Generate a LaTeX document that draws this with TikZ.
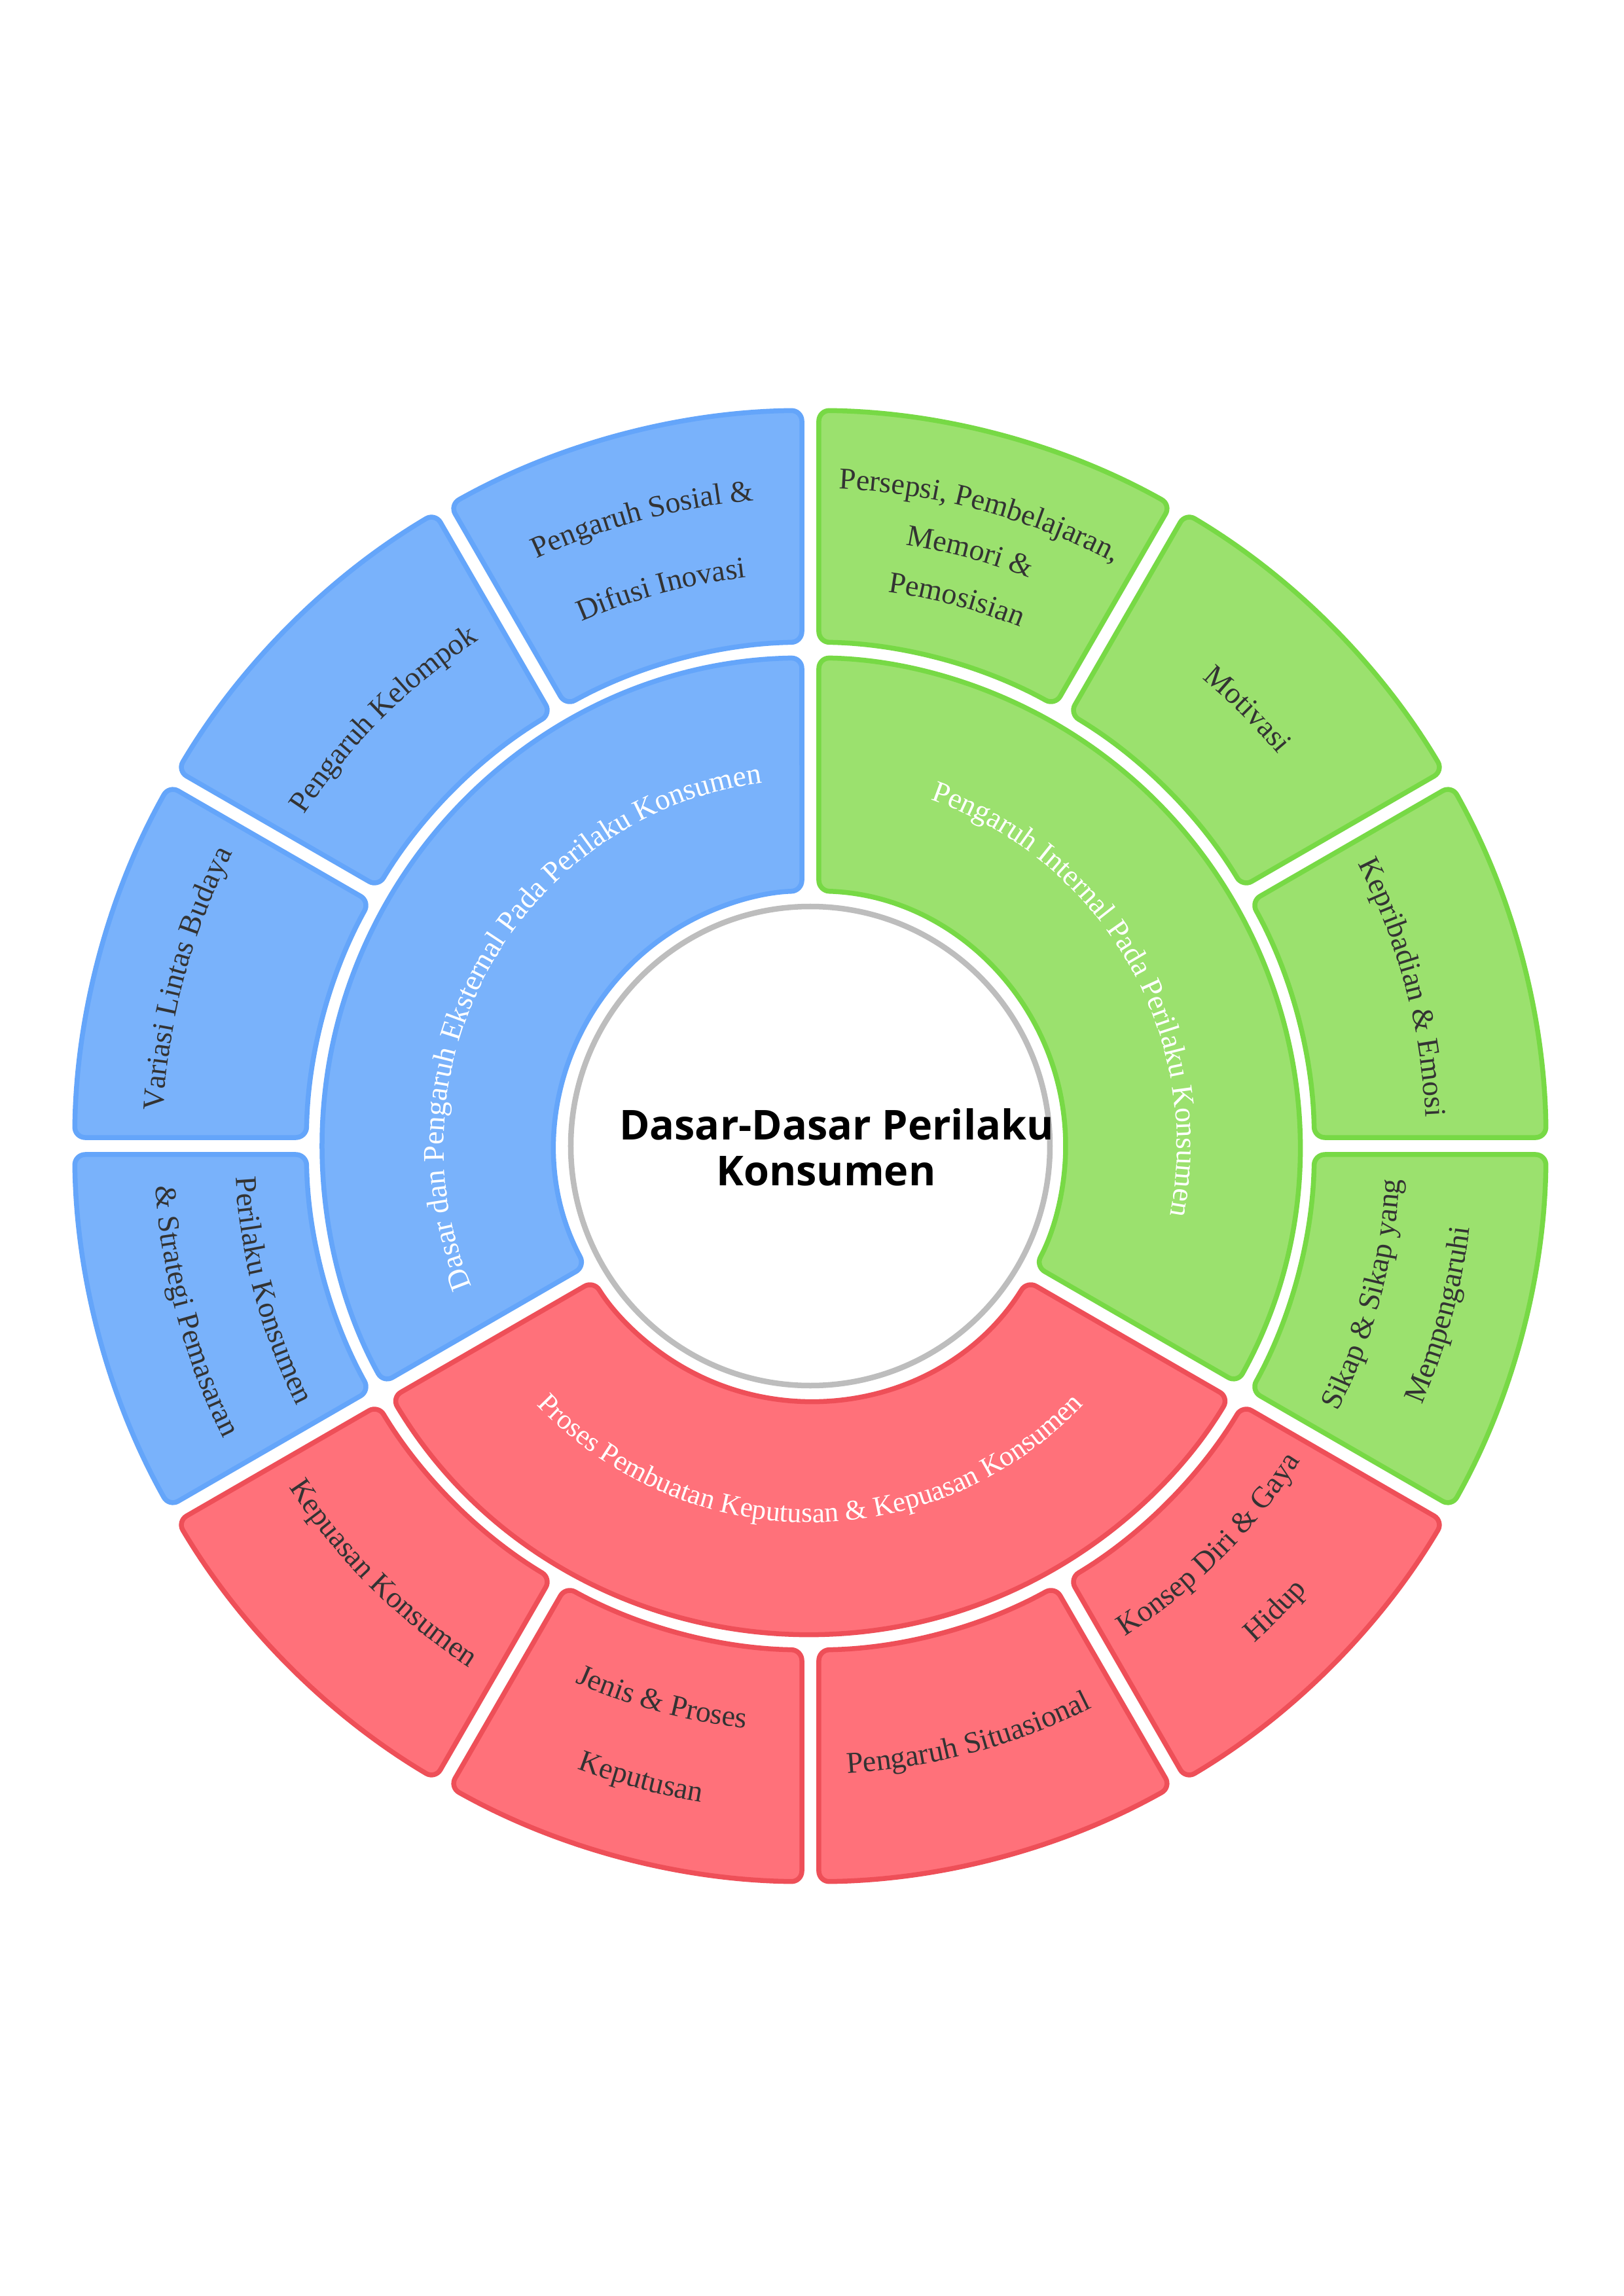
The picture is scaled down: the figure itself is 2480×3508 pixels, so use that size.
\documentclass[tikz,border=0pt]{standalone}
\usepackage{fontspec}
\setmainfont{Liberation Serif}
\newfontfamily\ctrfont{Open Sans}
\usetikzlibrary{decorations.text}
\definecolor{bluefill}{HTML}{79B2FB}
\definecolor{blueline}{HTML}{64A5FA}
\definecolor{greenfill}{HTML}{9BE16E}
\definecolor{greenline}{HTML}{77D945}
\definecolor{redfill}{HTML}{FF717A}
\definecolor{redline}{HTML}{EE4F58}
\definecolor{ringgray}{HTML}{BDBDBD}
\definecolor{lbldark}{HTML}{333333}
\newcommand\lblfont{\fontsize{13.1}{16}\selectfont}
\newcommand\midfont{\fontsize{13}{16}\selectfont}
\newcommand\redmidfont{\fontsize{12.3}{15}\selectfont}
% sector: start angle, end angle, inner r, outer r, style
\newcommand\ringsector[5]{%
  \draw[#5] ({#1+asin(13/#4)}:#4)
    arc[start angle={#1+asin(13/#4)}, end angle={#2-asin(13/#4)}, radius=#4]
    -- ({#2-asin(13/#3)}:#3)
    arc[start angle={#2-asin(13/#3)}, end angle={#1+asin(13/#3)}, radius=#3]
    -- cycle;}
% curved label: start angle, end angle, radius, colour, text (font given in text)
\newcommand\arclabel[5]{%
  \path[decorate, decoration={text along path, text align=center, text color=#4,
      text={#5}}]
    (#1:#3) arc[start angle=#1, end angle=#2, radius=#3];}
\tikzset{
  sector/.style={line width=0.075cm, rounded corners=0.16cm, line join=round},
  bluesec/.style={sector, fill=bluefill, draw=blueline},
  greensec/.style={sector, fill=greenfill, draw=greenline},
  redsec/.style={sector, fill=redfill, draw=redline},
  hubring/.style={draw=ringgray, fill=white, line width=0.085cm},
  titletext/.style={font={\ctrfont\bfseries\fontsize{17.9}{19.9}\selectfont}, align=center, text=black, inner sep=0pt}
}
\begin{document}
\begin{tikzpicture}[x=0.01cm, y=0.01cm]
\path[use as bounding box, fill=white] (-1238,-1757) rectangle (1242,1751);

% middle ring
\ringsector{90}{210}{390}{746}{bluesec}
\ringsector{-30}{90}{390}{746}{greensec}
\ringsector{210}{330}{390}{746}{redsec}

% outer ring
\ringsector{90}{120}{770}{1124}{bluesec}
\ringsector{120}{150}{770}{1124}{bluesec}
\ringsector{150}{180}{770}{1124}{bluesec}
\ringsector{180}{210}{770}{1124}{bluesec}
\ringsector{60}{90}{770}{1124}{greensec}
\ringsector{30}{60}{770}{1124}{greensec}
\ringsector{0}{30}{770}{1124}{greensec}
\ringsector{-30}{0}{770}{1124}{greensec}
\ringsector{210}{240}{770}{1124}{redsec}
\ringsector{240}{270}{770}{1124}{redsec}
\ringsector{270}{300}{770}{1124}{redsec}
\ringsector{300}{330}{770}{1124}{redsec}

% hub
\draw[hubring] (0,0) circle[radius=366];
\node[titletext] (title) at (40,-2) {Dasar-Dasar Perilaku\\Konsumen\hspace*{0.32cm}};

% middle labels
\arclabel{210}{90}{560}{white}{|\midfont|Dasar dan Pengaruh Eksternal Pada Perilaku Konsumen}
\arclabel{90}{-30}{560}{white}{|\midfont|Pengaruh Internal Pada Perilaku Konsumen}
\arclabel{210}{330}{575}{white}{|\redmidfont|Proses Pembuatan Keputusan {\&} Kepuasan Konsumen}

% outer labels - blue
\arclabel{120}{90}{990}{lbldark}{|\lblfont|Pengaruh Sosial {\&}}
\arclabel{120}{90}{874}{lbldark}{|\lblfont|Difusi Inovasi}
\arclabel{150}{120}{924}{lbldark}{|\lblfont|Pengaruh Kelompok}
\arclabel{180}{150}{990}{lbldark}{|\lblfont|Variasi Lintas Budaya}
\arclabel{180}{210}{879}{lbldark}{|\lblfont|Perilaku Konsumen}
\arclabel{180}{210}{1002}{lbldark}{|\lblfont|{\&} Strategi Pemasaran}
% outer labels - green
\arclabel{90}{60}{1005}{lbldark}{|\lblfont|Persepsi, Pembelajaran,}
\arclabel{90}{60}{930}{lbldark}{|\lblfont|Memori {\&}}
\arclabel{90}{60}{855}{lbldark}{|\lblfont|Pemosisian}
\arclabel{60}{30}{932}{lbldark}{|\lblfont|Motivasi}
\arclabel{30}{0}{941}{lbldark}{|\lblfont|Kepribadian {\&} Emosi}
\arclabel{-30}{0}{902}{lbldark}{|\lblfont|Sikap {\&} Sikap yang}
\arclabel{-30}{0}{1015}{lbldark}{|\lblfont|Mempengaruhi}
% outer labels - red
\arclabel{210}{240}{952}{lbldark}{|\lblfont|Kepuasan Konsumen}
\arclabel{240}{270}{895}{lbldark}{|\lblfont|Jenis {\&} Proses}
\arclabel{240}{270}{1016}{lbldark}{|\lblfont|Keputusan}
\arclabel{270}{300}{960}{lbldark}{|\lblfont|Pengaruh Situasional}
\arclabel{300}{330}{890}{lbldark}{|\lblfont|Konsep Diri {\&} Gaya}
\arclabel{300}{330}{1018}{lbldark}{|\lblfont|Hidup}
\end{tikzpicture}
\end{document}
